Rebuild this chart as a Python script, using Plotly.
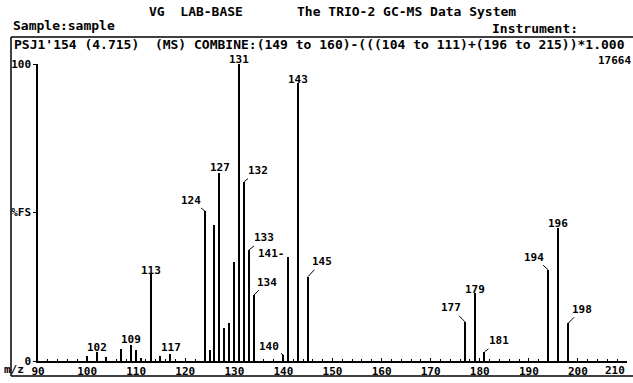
import plotly.graph_objects as go

# ---- data ----
mz = [100, 102, 104, 107, 109, 110, 111, 113, 115, 117,
      124, 125, 126, 127, 128, 129, 130, 131, 132, 133, 134,
      140, 141, 143, 145, 177, 179, 181, 194, 196, 198]
intensity = [1.7, 3.0, 1.4, 4.0, 5.4, 3.7, 1.0, 29.5, 1.7, 2.4,
             50.5, 3.7, 45.8, 63.2, 11.0, 12.7, 33.4, 100.0, 60.4, 37.4, 22.2,
             2.0, 35.1, 93.6, 28.4, 13.2, 23.0, 3.1, 30.6, 44.7, 12.7]
labelled = [102, 109, 113, 117, 124, 127, 131, 132, 133, 134, 140, 141,
            143, 145, 177, 179, 181, 194, 196, 198]
x_ticks = [90, 100, 110, 120, 130, 140, 150, 160, 170, 180, 190, 200, 210]
x_ticktext = ["90", "100", "110", "120", "130", "140", "150", "160",
              "170", "180", "190", "200", ""]
x_last_label = "210"   # drawn right-aligned at the axis end, as in the print
y_ticks = [0, 50, 100]
y_ticktext = ["0", "%FS", "100"]
full_scale = "17664"
title_left = "VG  LAB-BASE"
title_right = "The TRIO-2 GC-MS Data System"
sample_text = "Sample:sample"
instrument_text = "Instrument:"
header_text = "PSJ1'154 (4.715)  (MS) COMBINE:(149 to 160)-(((104 to 111)+(196 to 215))*1.000"

# ---- layout geometry (pixels) ----
W, H = 633, 383
L, R = 38, 627      # plot area x extent
T, B = 64, 361      # plot area y extent

def px(x):
    return (x - L) / (R - L)

def py(y):
    return (B - y) / (B - T)

MONO = "DejaVu Sans Mono"
lab_font = dict(family=MONO, size=11, color="black", weight="bold")
hdr_font = dict(family=MONO, size=13, color="black", weight="bold")

# label styles: leader offsets (ax, ay) or centred yshift
leader = {124: (-14, -11), 132: (14, -11), 133: (15, -12), 134: (13, -13),
          140: (-14, -9), 145: (14, -15), 177: (-14, -14), 181: (14, -11),
          194: (-14, -13), 198: (14, -14)}
centred = {102: 4, 109: 4, 113: 2, 117: 5, 127: 5, 131: 4, 143: 3, 179: 2, 196: 4}

fig = go.Figure()
fig.add_trace(go.Bar(x=mz, y=intensity, width=0.3,
                     marker=dict(color="black", line=dict(width=0)),
                     hoverinfo="x+y"))

annotations = []
lookup = dict(zip(mz, intensity))
for m in labelled:
    yv = lookup[m]
    if m in leader:
        ax, ay = leader[m]
        annotations.append(dict(x=m, y=yv, text=str(m), showarrow=True,
                                arrowhead=0, arrowwidth=1, arrowcolor="black",
                                ax=ax, ay=ay, font=lab_font, standoff=0))
    elif m in centred:
        annotations.append(dict(x=m, y=yv, text=str(m), showarrow=False,
                                yanchor="middle", yshift=centred[m] + 1,
                                font=lab_font))
    else:
        annotations.append(dict(x=m, y=yv, text=str(m) + "-", showarrow=False,
                                xanchor="right", xshift=-1, yanchor="middle",
                                yshift=3, font=lab_font))

def txt(x, y, s, anchor="left", font=hdr_font):
    annotations.append(dict(xref="paper", yref="paper", x=px(x), y=py(y),
                            text=s, showarrow=False, xanchor=anchor,
                            yanchor="middle", font=font))

txt(147, 12, title_left)
txt(295, 12, title_right)
txt(11, 25, sample_text)
txt(490, 28, instrument_text)
txt(12, 45, header_text)
txt(633, 60, full_scale, anchor="right", font=lab_font)
txt(2, 369, "m/z", font=lab_font)
annotations.append(dict(x=x_ticks[-1], xref="x", yref="paper", y=py(370),
                        text=x_last_label, showarrow=False, xanchor="right",
                        yanchor="middle", font=lab_font))

line = dict(color="black", width=1.5)
shapes = [
    dict(type="line", xref="paper", yref="paper", x0=px(11), x1=px(633),
         y0=py(37), y1=py(37), line=line),
    dict(type="line", xref="paper", yref="paper", x0=px(11), x1=px(11),
         y0=py(37), y1=py(376), line=line),
    dict(type="line", xref="paper", yref="paper", x0=px(11), x1=px(633),
         y0=py(376), y1=py(376), line=line),
]

fig.update_layout(
    width=W, height=H,
    margin=dict(l=L, r=W - R, t=T, b=H - B, pad=0, autoexpand=False),
    paper_bgcolor="white", plot_bgcolor="white",
    showlegend=False, bargap=0,
    annotations=annotations, shapes=shapes,
    xaxis=dict(range=[90, 210], tickvals=x_ticks, ticktext=x_ticktext,
               automargin=False,
               showgrid=False, zeroline=False, showline=True,
               linecolor="black", linewidth=1.5,
               ticks="inside", ticklen=3, tickcolor="black", tickwidth=1,
               minor=dict(dtick=2, ticks="inside", ticklen=2,
                          tickcolor="black", tickwidth=1, showgrid=False),
               tickfont=lab_font, ticklabelstandoff=-1),
    yaxis=dict(range=[0, 100], tickvals=y_ticks, ticktext=y_ticktext,
               automargin=False,
               showgrid=False, zeroline=False, showline=True,
               linecolor="black", linewidth=1.5,
               ticks="outside", ticklen=3, tickcolor="black", tickwidth=1,
               tickfont=lab_font),
)

fig.write_html("out.html",
               config={"displayModeBar": False},
               post_script="document.body.style.margin='0px';")
